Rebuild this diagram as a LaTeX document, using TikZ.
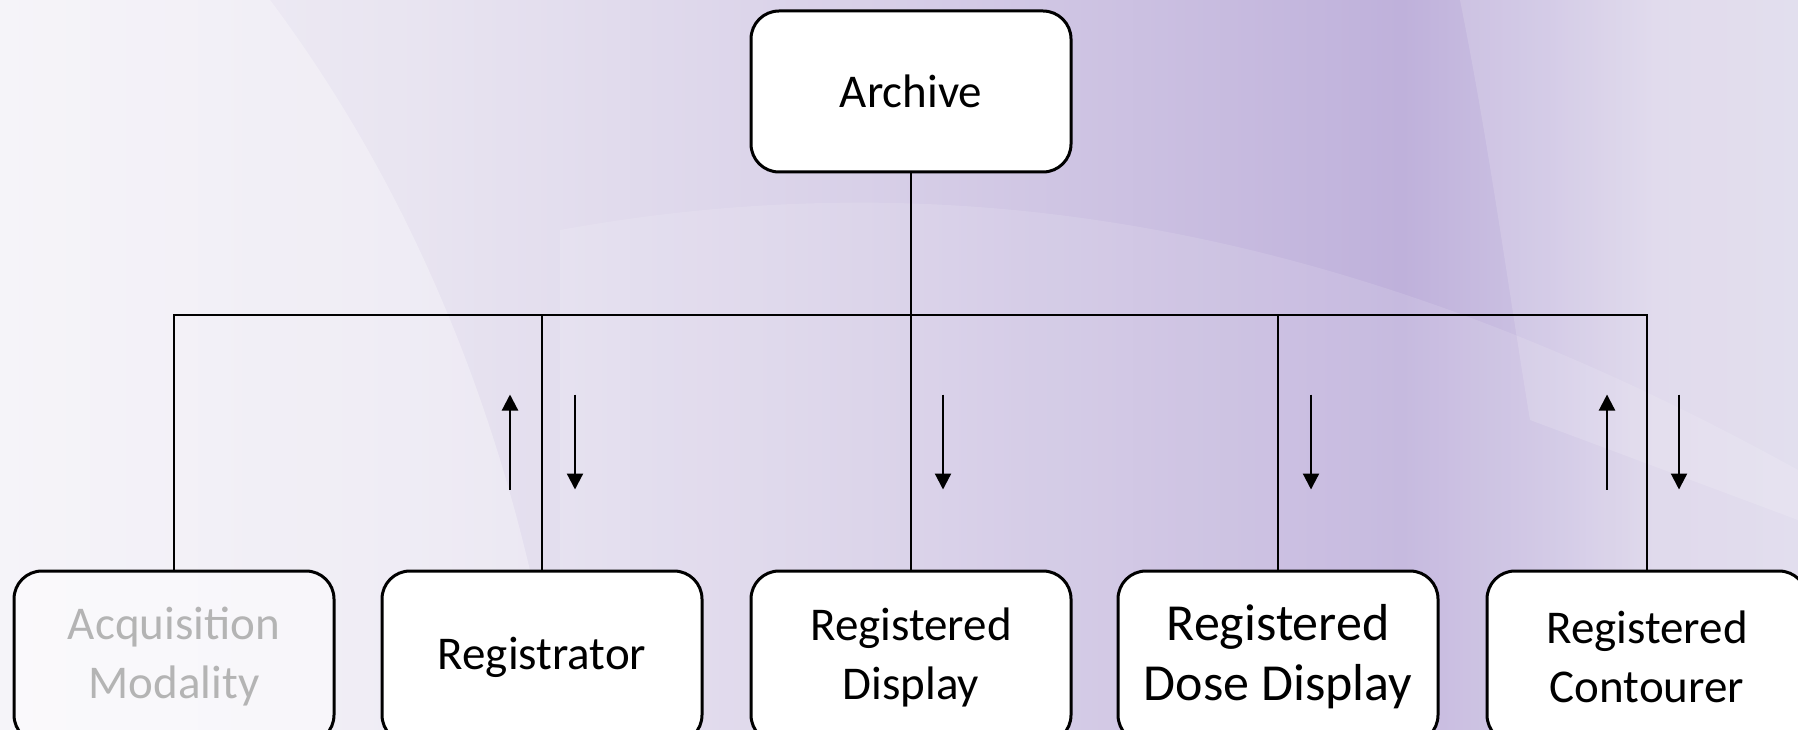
\documentclass[tikz,border=0pt]{standalone}
\usepackage{fontspec}
\setmainfont{Carlito}
\usetikzlibrary{arrows.meta,calc}
\definecolor{bgA}{HTML}{F2F0F7}
\definecolor{bgB}{HTML}{E9E5F1}
\definecolor{bgC}{HTML}{D8D0E8}
\definecolor{bgD}{HTML}{BFB1DB}
\definecolor{bgE}{HTML}{CDC3E3}
\definecolor{bgF}{HTML}{DCD5EA}
\definecolor{bgG}{HTML}{DEDAEC}
\definecolor{ghost}{HTML}{B4B4B4}
\pgfdeclarehorizontalshading{bgshade}{100bp}{color(0bp)=(bgA); color(25bp)=(bgA); color(36bp)=(bgB); color(49bp)=(bgC); color(64bp)=(bgD); color(68bp)=(bgE); color(71bp)=(bgF); color(75bp)=(bgG); color(100bp)=(bgG)}
\tikzset{
  box/.style={draw=black, line width=3pt, rounded corners=28pt, fill=white,
    minimum width=320pt, minimum height=161pt, inner sep=0pt, align=center,
    font=\fontsize{47}{59}\selectfont},
  lowbox/.style={box, minimum height=172pt},
  ghostbox/.style={lowbox, fill=white, fill opacity=0.5, text opacity=1, text=ghost},
  link/.style={draw=black, line width=1.6pt},
  arr/.style={draw=black, line width=2.2pt, -{Triangle[width=16pt,length=16pt]}}
}
\begin{document}
\begin{tikzpicture}[x=1pt,y=-1pt]
\useasboundingbox (0,0) rectangle (1798,730);
\begin{scope}
\clip (0,0) rectangle (1798,730);
\shade[shading=bgshade] (0,0) rectangle (1798,730);
\fill[white, opacity=0.3] (0,0) -- (270,0) .. controls (420,200) and (520,450) .. (560,730) -- (0,730) -- cycle;
\fill[white, opacity=0.12] (560,230) .. controls (1000,150) and (1400,250) .. (1798,470) -- (1798,730) -- (560,730) -- cycle;
\fill[white, opacity=0.15] (1460,0) .. controls (1490,150) and (1510,300) .. (1530,420) -- (1798,520) -- (1798,0) -- cycle;
\end{scope}

\node[box] (arch) at (911,91.5) {Archive};
\node[ghostbox] (acq) at (174,657) {Acquisition\\Modality};
\node[lowbox] (reg) at (542,657) {Registrator};
\node[lowbox] (disp) at (911,657) {Registered\\Display};
\node[lowbox, font=\fontsize{52}{60}\selectfont] (dose) at (1278,657) {Registered\\Dose Display};
\node[lowbox] (cont) at (1647,657) {Registered\\Contourer};

\coordinate (bus) at (0,315);
\draw[link] (arch.south) -- (arch.south |- bus);
\draw[link] (acq.north) |- (cont.north |- bus) -- (cont.north);
\draw[link] (reg.north) -- (reg.north |- bus);
\draw[link] (disp.north) -- (disp.north |- bus);
\draw[link] (dose.north) -- (dose.north |- bus);

\draw[arr] ($(reg.north)+(-32,-80)$) -- ++(0,-95);
\draw[arr] ($(reg.north)+(33,-175)$) -- ++(0,95);
\draw[arr] ($(disp.north)+(32,-175)$) -- ++(0,95);
\draw[arr] ($(dose.north)+(33,-175)$) -- ++(0,95);
\draw[arr] ($(cont.north)+(-40,-80)$) -- ++(0,-95);
\draw[arr] ($(cont.north)+(32,-175)$) -- ++(0,95);
\end{tikzpicture}
\end{document}
